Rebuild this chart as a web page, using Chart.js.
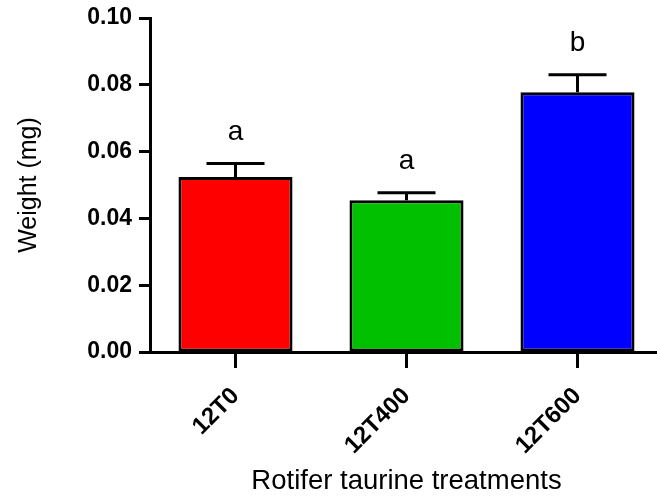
<!DOCTYPE html>
<html>
<head>
<meta charset="utf-8">
<script src="https://cdn.jsdelivr.net/npm/chart.js@4"></script>
<style>
  html, body { margin: 0; padding: 0; background: #fff; overflow: hidden; }
  #wrap { width: 663px; height: 498px; }
</style>
</head>
<body>
<div id="wrap"><canvas id="c" width="663" height="498"></canvas></div>
<script>
// ---- data ----
const categories = ["12T0", "12T400", "12T600"];
const means = [0.0524, 0.0454, 0.0778];
const errors = [0.0040, 0.0023, 0.0052];
const letters = ["a", "a", "b"];
const barColors = ["#ff0000", "#00c000", "#0000ff"];
const yTicks = [0, 0.02, 0.04, 0.06, 0.08, 0.10];

const FONT = 'Arial, "Liberation Sans", sans-serif';

const errorBarPlugin = {
  id: 'errorBars',
  afterDatasetsDraw(chart) {
    const ctx = chart.ctx;
    const xs = chart.scales.x, ys = chart.scales.y;
    ctx.save();
    ctx.strokeStyle = '#000';
    ctx.lineWidth = 3;
    ctx.lineCap = 'butt';
    means.forEach((m, i) => {
      const x = xs.getPixelForValue(i);
      const y0 = ys.getPixelForValue(m);
      const y1 = ys.getPixelForValue(m + errors[i]);
      ctx.beginPath();
      ctx.moveTo(x, y0);
      ctx.lineTo(x, y1);
      ctx.moveTo(x - 29, y1);
      ctx.lineTo(x + 29, y1);
      ctx.stroke();
      ctx.fillStyle = '#000';
      ctx.font = '28px ' + FONT;
      ctx.textAlign = 'center';
      ctx.textBaseline = 'alphabetic';
      ctx.fillText(letters[i], x, y1 - 24);
    });
    ctx.restore();
  }
};

new Chart(document.getElementById('c'), {
  type: 'bar',
  data: {
    labels: categories,
    datasets: [{
      data: means,
      backgroundColor: barColors,
      borderColor: '#000',
      borderWidth: 3,
      borderSkipped: false,
      barPercentage: 0.667,
      categoryPercentage: 1.0
    }]
  },
  options: {
    responsive: false,
    animation: false,
    layout: { padding: { top: 18, right: 0, left: 0, bottom: 0 } },
    plugins: { legend: { display: false }, tooltip: { enabled: false } },
    scales: {
      x: {
        offset: true,
        grid: { display: true, drawOnChartArea: false, offset: false, drawTicks: true, tickLength: 16, tickColor: '#000', tickWidth: 3 },
        border: { display: true, color: '#000', width: 3 },
        ticks: { color: '#000', font: { family: FONT, size: 24, weight: 'bold' }, maxRotation: 45, minRotation: 45, padding: 14 },
        title: { display: true, text: 'Rotifer taurine treatments', color: '#000', font: { family: FONT, size: 27.5 }, padding: { top: 0, bottom: 0 } },
        afterFit(s) { s.height = 146; s.paddingLeft = 0; s.paddingRight = 0; }
      },
      y: {
        min: 0, max: 0.10,
        afterBuildTicks(s) { s.ticks = yTicks.map(v => ({ value: v })); },
        grid: { display: true, drawOnChartArea: false, drawTicks: true, tickLength: 11, tickColor: '#000', tickWidth: 3 },
        border: { display: true, color: '#000', width: 3 },
        ticks: { color: '#000', font: { family: FONT, size: 23, weight: 'bold' }, padding: 7, callback: v => Number(v).toFixed(2) },
        title: { display: true, text: 'Weight (mg)', color: '#000', font: { family: FONT, size: 25 }, padding: { top: 14, bottom: 0 } },
        afterFit(s) { s.width = 150; s.paddingTop = 0; s.paddingBottom = 0; }
      }
    }
  },
  plugins: [errorBarPlugin]
});
</script>
</body>
</html>
